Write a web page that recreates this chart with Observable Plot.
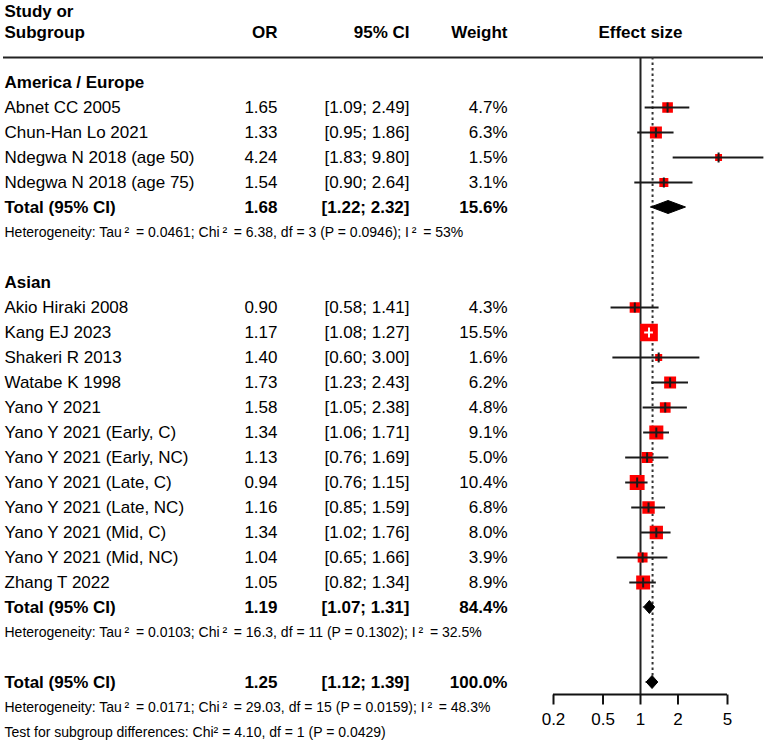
<!DOCTYPE html>
<html><head><meta charset="utf-8">
<script src="https://cdn.jsdelivr.net/npm/d3@7"></script>
<script src="https://cdn.jsdelivr.net/npm/@observablehq/plot@0.6"></script>
<style>body{margin:0;background:#fff}</style>
</head><body><div id="chart"></div>
<script>
// ---- data ----
const groups = ["America / Europe", "Asian"];
const studyNames = [
  "Abnet CC 2005", "Chun-Han Lo 2021", "Ndegwa N 2018 (age 50)", "Ndegwa N 2018 (age 75)",
  "Akio Hiraki 2008", "Kang EJ 2023", "Shakeri R 2013", "Watabe K 1998", "Yano Y 2021",
  "Yano Y 2021 (Early, C)", "Yano Y 2021 (Early, NC)", "Yano Y 2021 (Late, C)",
  "Yano Y 2021 (Late, NC)", "Yano Y 2021 (Mid, C)", "Yano Y 2021 (Mid, NC)", "Zhang T 2022"
];
const studyGroup = [0,0,0,0, 1,1,1,1,1,1,1,1,1,1,1,1];
const orValues = [1.65, 1.33, 4.24, 1.54, 0.90, 1.17, 1.40, 1.73, 1.58, 1.34, 1.13, 0.94, 1.16, 1.34, 1.04, 1.05];
const ciLower  = [1.09, 0.95, 1.83, 0.90, 0.58, 1.08, 0.60, 1.23, 1.05, 1.06, 0.76, 0.76, 0.85, 1.02, 0.65, 0.82];
const ciUpper  = [2.49, 1.86, 9.80, 2.64, 1.41, 1.27, 3.00, 2.43, 2.38, 1.71, 1.69, 1.15, 1.59, 1.76, 1.66, 1.34];
const weights  = [4.7, 6.3, 1.5, 3.1, 4.3, 15.5, 1.6, 6.2, 4.8, 9.1, 5.0, 10.4, 6.8, 8.0, 3.9, 8.9];
const subgroupOR = [1.68, 1.19];
const subgroupLower = [1.22, 1.07];
const subgroupUpper = [2.32, 1.31];
const subgroupWeight = [15.6, 84.4];
const subgroupHet = [
  "Heterogeneity: Tau\u2009\u00b2\u2009 = 0.0461; Chi\u2009\u00b2\u2009 = 6.38, df = 3 (P = 0.0946); I\u2009\u00b2\u2009 = 53%",
  "Heterogeneity: Tau\u2009\u00b2\u2009 = 0.0103; Chi\u2009\u00b2\u2009 = 16.3, df = 11 (P = 0.1302); I\u2009\u00b2\u2009 = 32.5%"
];
const overallOR = 1.25, overallLower = 1.12, overallUpper = 1.39, overallWeight = 100.0;
const overallHet = "Heterogeneity: Tau\u2009\u00b2\u2009 = 0.0171; Chi\u2009\u00b2\u2009 = 29.03, df = 15 (P = 0.0159); I\u2009\u00b2\u2009 = 48.3%";
const subgroupTest = "Test for subgroup differences: Chi\u00b2 = 4.10, df = 1 (P = 0.0429)";
const axisTicks = [0.2, 0.5, 1, 2, 5];
const totalLabel = "Total (95% CI)";

// ---- layout (style) ----
const W = 767, H = 747;
const xLeft = 553, xRight = 727;
const yTop = 82, rowStep = 25;
const fs = 17, fsNote = 14;
const rMax = 8.86;          // core square side = r*sqrt(pi)
const sqStroke = 2;
const diamondHalf = 6.5 / rowStep;

// ---- build rows ----
const fmt2 = d3.format(".2f"), fmt1 = d3.format(".1f");
const textRows = [], studies = [], diamonds = [];
let r = 0;
groups.forEach((g, gi) => {
  textRows.push({row: r++, label: g, kind: "group"});
  studyNames.forEach((n, i) => {
    if (studyGroup[i] !== gi) return;
    const d = {row: r++, label: n, or: orValues[i], lo: ciLower[i], hi: ciUpper[i], w: weights[i], kind: "study"};
    studies.push(d); textRows.push(d);
  });
  const t = {row: r++, label: totalLabel, or: subgroupOR[gi], lo: subgroupLower[gi], hi: subgroupUpper[gi], w: subgroupWeight[gi], kind: "total"};
  textRows.push(t); diamonds.push(t);
  textRows.push({row: r++, label: subgroupHet[gi], kind: "note"});
  r++;
});
const overallRow = r;
const ot = {row: r++, label: totalLabel, or: overallOR, lo: overallLower, hi: overallUpper, w: overallWeight, kind: "total"};
textRows.push(ot); diamonds.push(ot);
textRows.push({row: r++, label: overallHet, kind: "note"});
textRows.push({row: r++, label: subgroupTest, kind: "note"});
const lastRow = r - 1;

const diamondPts = diamonds.flatMap((d, k) => [
  {id: k, x: d.lo, y1: d.row, y2: d.row},
  {id: k, x: d.or, y1: d.row - diamondHalf, y2: d.row + diamondHalf},
  {id: k, x: d.hi, y1: d.row, y2: d.row}
]);

// white CI line when it lies inside the square
const xDomain = [axisTicks[0], axisTicks[axisTicks.length - 1]];
const xs = d3.scaleLog().domain(xDomain).range([xLeft, xRight]);
const wMax = d3.max(weights);
const inside = d => {
  const half = (rMax * Math.sqrt(d.w / wMax) * Math.sqrt(Math.PI) + sqStroke) / 2;
  return xs(d.lo) >= xs(d.or) - half && xs(d.hi) <= xs(d.or) + half;
};
const lineColor = d => inside(d) ? "white" : "#1a1a1a";
const vtick = {draw(ctx) { ctx.moveTo(0, -5); ctx.lineTo(0, 5); }};
const tickDown = {draw(ctx) { ctx.moveTo(0, 0); ctx.lineTo(0, 10); }};

const col = {label: 4, or: 277, ci: 409, w: 507};
const L = v => v - xLeft;
const mainRows = textRows.filter(d => d.kind === "study");
const boldRows = textRows.filter(d => d.kind === "group" || d.kind === "total");
const notes = textRows.filter(d => d.kind === "note");
const ciText = d => `[${fmt2(d.lo)}; ${fmt2(d.hi)}]`;
const wText = d => `${fmt1(d.w)}%`;
const hdrRow = -2;

const colText = (data, opts) => [
  Plot.text(data, {y: "row", text: d => fmt2(d.or), frameAnchor: "left", dx: L(col.or), textAnchor: "end", ...opts}),
  Plot.text(data, {y: "row", text: ciText, frameAnchor: "left", dx: L(col.ci), textAnchor: "end", ...opts}),
  Plot.text(data, {y: "row", text: wText, frameAnchor: "left", dx: L(col.w), textAnchor: "end", ...opts})
];
const header = (t, anchor, x, extra = {}) =>
  Plot.text([t], {y: () => hdrRow, text: d => d, frameAnchor: "left", dx: L(x), textAnchor: anchor, fontWeight: "bold", fontSize: fs, ...extra});

const chart = Plot.plot({
  width: W, height: H,
  marginLeft: xLeft, marginRight: W - xRight, marginTop: 58, marginBottom: 53,
  style: {fontFamily: "'Liberation Sans', Arial, sans-serif", fontSize: fs + "px", color: "black", background: "white"},
  x: {type: "log", domain: xDomain, range: [xLeft, xRight], axis: null, label: null},
  y: {domain: [0, lastRow], range: [yTop, yTop + rowStep * lastRow], axis: null},
  r: {type: "sqrt", domain: [0, wMax], range: [0, rMax]},
  marks: [
    // header line
    Plot.ruleY([hdrRow + 1], {stroke: "#222", strokeWidth: 2, insetLeft: -(xLeft - 3), insetRight: -(W - 4 - xRight)}),
    // headers
    header("Study or", "start", col.label, {dy: -21}),
    header("Subgroup", "start", col.label),
    header("OR", "end", col.or),
    header("95% CI", "end", col.ci),
    header("Weight", "end", col.w),
    Plot.text(["Effect size"], {x: () => 1, y: () => hdrRow, text: d => d, fontWeight: "bold", fontSize: fs}),
    // labels
    Plot.text(mainRows, {y: "row", text: "label", frameAnchor: "left", dx: L(col.label), textAnchor: "start", fontSize: fs}),
    Plot.text(boldRows, {y: "row", text: "label", frameAnchor: "left", dx: L(col.label), textAnchor: "start", fontSize: fs, fontWeight: "bold"}),
    Plot.text(notes, {y: "row", text: "label", frameAnchor: "left", dx: L(col.label), textAnchor: "start", fontSize: fsNote}),
    ...colText(mainRows, {fontSize: fs}),
    ...colText(textRows.filter(d => d.kind === "total"), {fontSize: fs, fontWeight: "bold"}),
    // reference lines
    Plot.ruleX([1], {stroke: "#222", strokeWidth: 2}),
    Plot.ruleX([overallOR], {y1: hdrRow + 1, y2: overallRow, stroke: "#333", strokeWidth: 2, strokeDasharray: "2.5,3"}),
    // squares
    Plot.dot(studies, {x: "or", y: "row", r: "w", symbol: "square", fill: "#ff0000", stroke: "#ff0000", strokeWidth: sqStroke}),
    // CI lines + ticks
    Plot.ruleY(studies, {y: "row", x1: "lo", x2: "hi", stroke: lineColor, strokeWidth: 2}),
    Plot.dot(studies, {x: "or", y: "row", symbol: vtick, fill: "none", stroke: lineColor, strokeWidth: 2}),
    // diamonds
    Plot.areaY(diamondPts, {x: "x", y1: "y1", y2: "y2", z: "id", fill: "black", stroke: "black", strokeWidth: 1}),
    // axis
    Plot.ruleY([overallRow], {dy: 12, stroke: "#111", strokeWidth: 2}),
    Plot.dot(axisTicks, {x: d => d, y: () => overallRow, dy: 12, symbol: tickDown, fill: "none", stroke: "#111", strokeWidth: 2}),
    Plot.text(axisTicks, {x: d => d, y: () => overallRow, dy: 37, text: d => String(d), fontSize: fs})
  ]
});
document.getElementById("chart").appendChild(chart);
</script>
</body></html>
